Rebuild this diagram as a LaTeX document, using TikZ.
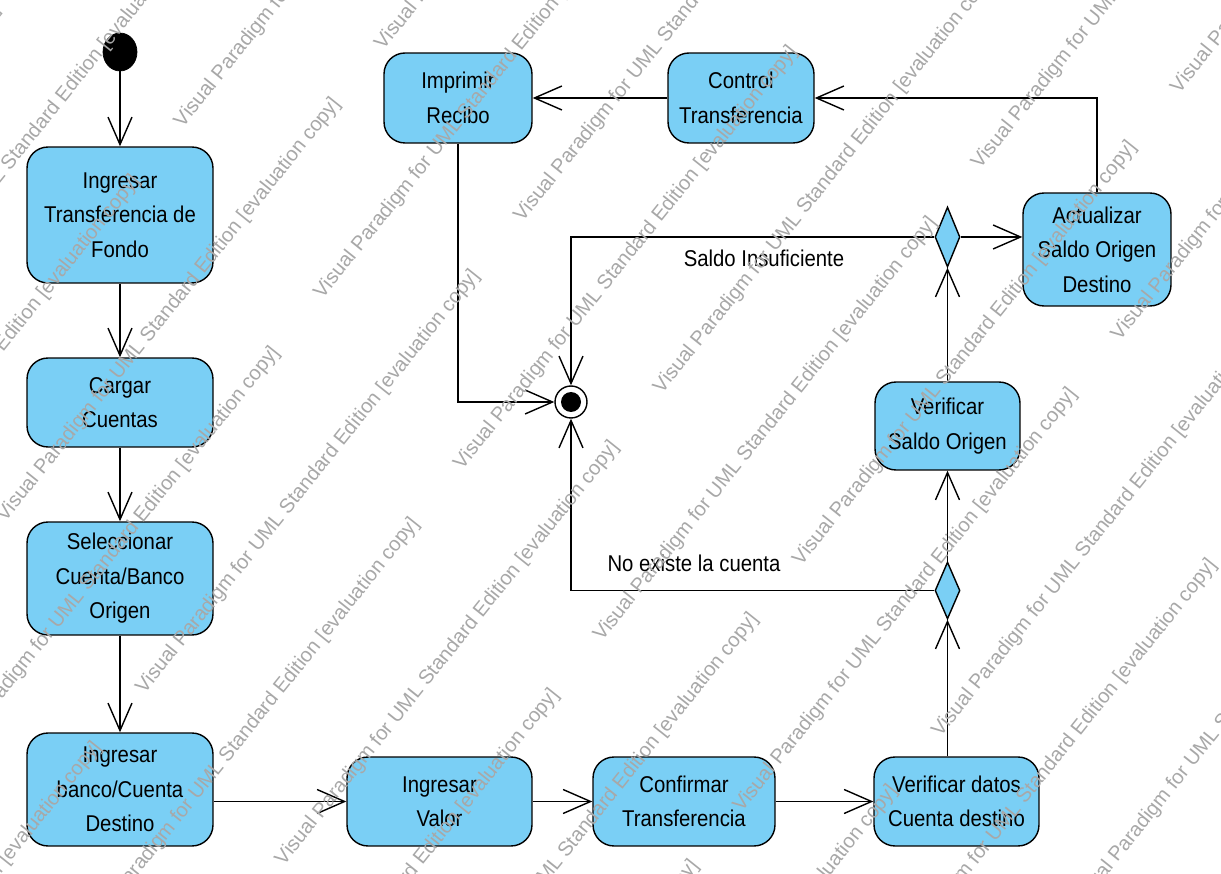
\documentclass[tikz,border=0pt]{standalone}
\usepackage{fontspec}
\setmainfont{Liberation Sans}
\newfontfamily\lblfont{Liberation Sans}[FakeStretch=0.89]
\usetikzlibrary{arrows.meta,shapes.geometric}
\definecolor{actfill}{RGB}{122,207,245}
\definecolor{wmgray}{RGB}{168,168,168}
\tikzset{
  act/.style={draw=black, line width=0.8pt, fill=actfill, rounded corners=0.42cm,
    inner sep=0pt, align=center, font=\lblfont\fontsize{13}{19.6}\selectfont},
  dec/.style={draw=black, line width=0.8pt, fill=actfill, diamond, inner sep=0pt,
    minimum width=0.5cm},
  arr/.style={line width=0.8pt, -{Straight Barb[length=0.55cm,width=0.48cm,line width=0.8pt]}},
  lbl/.style={font=\lblfont\fontsize{13}{19.6}\selectfont, inner sep=0pt},
  wm/.style={font=\fontsize{11.5}{13}\selectfont, text=wmgray, rotate=51.3,
    anchor=base west, inner sep=0pt},
}
\begin{document}
\begin{tikzpicture}[x=0.02cm, y=-0.02cm]
\useasboundingbox (0,0) rectangle (1221,874);
\fill[white] (0,0) rectangle (1221,874);

% nodes
\node[ellipse, fill=black, draw=black, minimum width=0.68cm, minimum height=0.76cm, inner sep=0pt] (I) at (120,52) {};
\node[act, minimum width=3.72cm, minimum height=2.72cm] (IT) at (120,215) {Ingresar\\Transferencia de\\Fondo};
\node[act, minimum width=3.72cm, minimum height=1.78cm] (CC) at (120,402.5) {Cargar\\Cuentas};
\node[act, minimum width=3.72cm, minimum height=2.26cm] (SC) at (120,578.5) {Seleccionar\\Cuenta/Banco\\Origen};
\node[act, minimum width=3.72cm, minimum height=2.26cm] (IB) at (120,789.5) {Ingresar\\banco/Cuenta\\Destino};
\node[act, minimum width=3.70cm, minimum height=1.78cm] (IV) at (439.5,801.5) {Ingresar\\Valor};
\node[act, minimum width=3.64cm, minimum height=1.78cm] (CT) at (684,801.5) {Confirmar\\Transferencia};
\node[act, minimum width=3.30cm, minimum height=1.78cm] (VD) at (956.5,801.5) {Verificar datos\\Cuenta destino};
\node[act, minimum width=2.90cm, minimum height=1.76cm] (VS) at (947.5,426) {Verificar\\Saldo Origen};
\node[act, minimum width=2.96cm, minimum height=2.26cm] (AS) at (1097,249.5) {Actualizar\\Saldo Origen\\Destino};
\node[act, minimum width=2.92cm, minimum height=1.80cm] (CTR) at (741,98) {Control\\Transferencia};
\node[act, minimum width=2.96cm, minimum height=1.80cm] (IR) at (458,98) {Imprimir\\Recibo};
\node[dec, minimum height=1.2cm] (D1) at (947.5,237) {};
\node[dec, minimum height=1.14cm] (D2) at (947.5,590.5) {};
\node[circle, draw=black, fill=white, line width=0.8pt, minimum size=0.64cm, inner sep=0pt] (F) at (571,402) {};
\fill[black] (F.center) circle (0.2cm);

% labels
\node[lbl] (LSI) at (764,258) {Saldo Insuficiente};
\node[lbl] (LNE) at (694,563) {No existe la cuenta};

% connectors
\draw[arr] (I) -- (IT);
\draw[arr] (IT) -- (CC);
\draw[arr] (CC) -- (SC);
\draw[arr] (SC) -- (IB);
\draw[arr] (IV.west -| IB.east) -- (IV.west);
\draw[arr] (IV) -- (CT);
\draw[arr] (CT) -- (VD);
\draw[arr] (VD.north -| D2) -- (D2.south);
\draw[arr] (D2.north) -- (VS.south);
\draw[arr] (VS.north) -- (D1.south);
\draw[arr] (D1.east) -- (AS.west |- D1);
\draw[arr] (D1.west) -| (F.north);
\draw[arr] (D2.west) -| (F.south);
\draw[arr] (AS.north) |- (CTR.east);
\draw[arr] (CTR.west) -- (IR.east);
\draw[arr] (IR.south) |- (F.west);

% watermark (only the copies that reach the canvas)
\begin{scope}
\clip (0,0) rectangle (1221,874);
\foreach \k in {-1,...,13} {
  \pgfmathsetmacro{\ws}{223+108.1*(\k-1)}
  \pgfmathsetmacro{\wo}{isodd(\k) ? 14-23.125*(\k-1) : 200-23.5*(\k-2)}
  \pgfmathsetmacro{\wmin}{max(-1.248*\ws,(0.625*\ws-874)/0.78)-8}
  \pgfmathsetmacro{\wmax}{min((1221-0.78*\ws)/0.625,0.801*\ws)+8}
  \foreach \m in {-3,...,3} {
    \pgfmathsetmacro{\wt}{\wo+605*\m}
    \pgfmathtruncatemacro{\wvis}{and(\wt+537>\wmin,\wt<\wmax)}
    \ifnum\wvis=1
      \node[wm] (W\k\m) at ({0.780*\ws+0.625*\wt},{0.625*\ws-0.780*\wt}) {Visual Paradigm for UML Standard Edition [evaluation copy]};
    \fi
  }
}
\end{scope}
\end{tikzpicture}
\end{document}
